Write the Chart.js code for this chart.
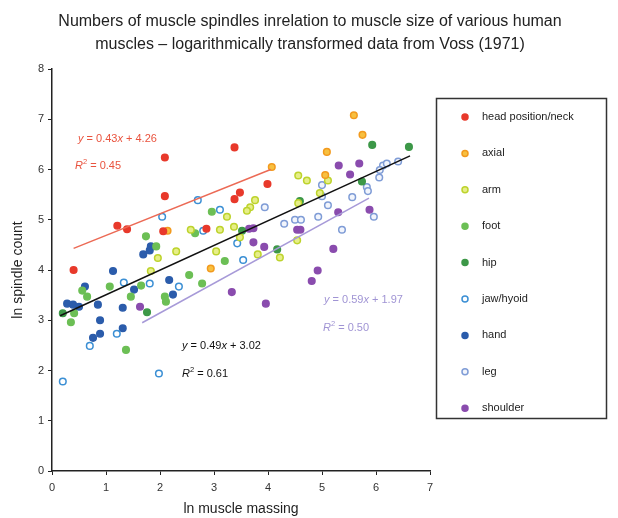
<!DOCTYPE html>
<html>
<head>
<meta charset="utf-8">
<script src="https://cdn.jsdelivr.net/npm/chart.js"></script>
<style>
  html, body { margin: 0; padding: 0; background: #fff; }
</style>
</head>
<body>
<canvas id="grafico" width="618" height="518"></canvas>
<script>
// grupos musculares (leyenda)
const groups = ['head position/neck', 'axial', 'arm', 'foot', 'hip', 'jaw/hyoid', 'hand', 'leg', 'shoulder']
const titleLines = ['Numbers of muscle spindles inrelation to muscle size of various human', 'muscles \u2013 logarithmically transformed data from Voss (1971)']

// [ln masa, ln husos]
const headNeck = [[0.4, 4.0], [1.21, 4.88], [1.39, 4.81], [2.09, 5.47], [2.09, 6.24], [3.38, 6.44], [3.38, 5.41], [3.48, 5.54], [3.99, 5.71], [2.06, 4.77], [2.86, 4.82]]
const axial = [[5.59, 7.08], [5.75, 6.69], [5.09, 6.35], [4.07, 6.05], [5.06, 5.89], [2.14, 4.78], [2.94, 4.03]]
const arm = [[4.56, 5.88], [4.72, 5.78], [5.11, 5.78], [3.76, 5.39], [3.67, 5.25], [3.61, 5.18], [3.37, 4.86], [3.48, 4.65], [3.81, 4.31], [4.22, 4.25], [4.54, 4.59], [2.57, 4.80], [3.11, 4.80], [2.30, 4.37], [1.96, 4.24], [1.83, 3.98], [3.04, 4.37], [3.24, 5.06], [4.96, 5.53], [4.56, 5.33]]
const foot = [[1.74, 4.67], [1.93, 4.47], [1.07, 3.67], [0.56, 3.59], [0.65, 3.47], [0.41, 3.14], [0.35, 2.96], [1.46, 3.47], [1.65, 3.69], [1.37, 2.41], [2.09, 3.47], [2.11, 3.37], [2.54, 3.90], [2.78, 3.73], [3.20, 4.18], [2.96, 5.16], [2.65, 4.73]]
const hip = [[0.2, 3.14], [1.76, 3.16], [5.93, 6.49], [6.61, 6.45], [4.59, 5.37], [5.74, 5.76], [4.17, 4.41], [3.52, 4.78]]
const jawHyoid = [[0.2, 1.78], [1.98, 1.94], [0.7, 2.49], [1.2, 2.73], [1.33, 3.75], [1.81, 3.73], [2.04, 5.06], [2.8, 4.78], [3.11, 5.2], [2.35, 3.67], [2.7, 5.39], [3.54, 4.2], [3.43, 4.53]]
const hand = [[1.69, 4.31], [1.83, 4.47], [1.81, 4.39], [1.13, 3.98], [0.61, 3.67], [0.28, 3.33], [0.39, 3.31], [0.5, 3.27], [0.85, 3.31], [1.52, 3.61], [1.31, 3.25], [0.89, 3.0], [0.89, 2.73], [0.76, 2.65], [1.31, 2.84], [2.17, 3.8], [2.24, 3.51]]
const leg = [[3.94, 5.25], [4.3, 4.92], [4.5, 5.0], [4.61, 5.0], [4.93, 5.06], [5.37, 4.8], [5.96, 5.06], [5.11, 5.29], [6.13, 6.08], [6.2, 6.12], [6.41, 6.16], [6.07, 5.99], [6.06, 5.84], [5.83, 5.65], [5.85, 5.57], [5.56, 5.45], [5.0, 5.69], [5.0, 5.47]]
const shoulder = [[5.3, 5.15], [5.88, 5.2], [4.54, 4.8], [4.6, 4.8], [3.73, 4.55], [3.93, 4.46], [5.21, 4.42], [4.92, 3.99], [4.81, 3.78], [3.33, 3.56], [3.96, 3.33], [3.65, 4.82], [3.73, 4.83], [5.31, 6.08], [5.69, 6.12], [5.52, 5.9], [1.63, 3.27]]

// lineas de tendencia (extremos leidos)
const trendHead = [[0.4, 4.43], [4.05, 6.0]]
const trendAll = [[0.15, 3.09], [6.63, 6.27]]
const trendLow = [[1.67, 2.95], [5.87, 5.43]]
const eqHead = ['0.43', '4.26', '0.45']
const eqAll = ['0.49', '3.02', '0.61']
const eqLow = ['0.59', '1.97', '0.50']

const groupData = [headNeck, axial, arm, foot, hip, jawHyoid, hand, leg, shoulder]
const fills = ['#e8392b', '#f7c040', '#e6ee88', '#6cbf55', '#3d9848', '#ffffff', '#2b5cab', '#f2f5fc', '#8a4cae']
const borders = ['#e8392b', '#f29a1e', '#bdd32c', '#6cbf55', '#3d9848', '#3b8fd4', '#2b5cab', '#7f9cd6', '#8a4cae']

const FONT = '"Liberation Sans", Arial, sans-serif'
const toPts = (arr) => arr.map((p) => ({ x: p[0], y: p[1] }))

const datasets = groups.map((g, i) => ({
    label: g,
    data: toPts(groupData[i]),
    backgroundColor: fills[i],
    borderColor: borders[i],
    borderWidth: 1.5,
    pointRadius: 3.3,
    pointHoverRadius: 3.3
}))

const lineSet = (arr, color) => ({
    type: 'line',
    label: '',
    data: toPts(arr),
    borderColor: color,
    borderWidth: 1.5,
    pointRadius: 0,
    fill: false,
    order: -1
})
datasets.push(lineSet(trendHead, '#ec6a55'))
datasets.push(lineSet(trendAll, '#111111'))
datasets.push(lineSet(trendLow, '#a79ad8'))

// texto con cursiva para y, x, R
const drawEq = (ctx, x, y, parts, color) => {
    ctx.fillStyle = color
    ctx.textBaseline = 'middle'
    ctx.textAlign = 'left'
    parts.forEach((p) => {
        const size = p.sup ? 7.5 : 11
        ctx.font = (p.it ? 'italic ' : '') + size + 'px ' + FONT
        ctx.fillText(p.t, x, p.sup ? y - 4 : y)
        x += ctx.measureText(p.t).width
    })
}
const eqParts = (e) => [{ t: 'y', it: true }, { t: ' = ' + e[0] }, { t: 'x', it: true }, { t: ' + ' + e[1] }]
const r2Parts = (e) => [{ t: 'R', it: true }, { t: '2', sup: true }, { t: ' = ' + e[2] }]

const extras = {
    id: 'extras',
    afterDraw(chart) {
        const ctx = chart.ctx
        ctx.save()
        // titulo centrado en todo el canvas
        ctx.fillStyle = '#222'
        ctx.font = '16px ' + FONT
        ctx.textAlign = 'center'
        ctx.textBaseline = 'middle'
        ctx.fillText(titleLines[0], 310, 22)
        ctx.fillText(titleLines[1], 310, 45)

        drawEq(ctx, 78, 139, eqParts(eqHead), '#e9533e')
        drawEq(ctx, 75, 166, r2Parts(eqHead), '#e9533e')
        drawEq(ctx, 182, 346, eqParts(eqAll), '#111')
        drawEq(ctx, 182, 374, r2Parts(eqAll), '#111')
        drawEq(ctx, 324, 300, eqParts(eqLow), '#a094d4')
        drawEq(ctx, 323, 328, r2Parts(eqLow), '#a094d4')

        // leyenda con marco
        ctx.strokeStyle = '#333'
        ctx.lineWidth = 1.5
        ctx.strokeRect(436.5, 98.5, 170, 320)
        groups.forEach((g, i) => {
            const cy = 117 + i * 36.4
            ctx.beginPath()
            ctx.arc(465, cy, 3, 0, Math.PI * 2)
            ctx.fillStyle = fills[i]
            ctx.fill()
            ctx.lineWidth = 1.5
            ctx.strokeStyle = borders[i]
            ctx.stroke()
            ctx.fillStyle = '#222'
            ctx.font = '11px ' + FONT
            ctx.textAlign = 'left'
            ctx.textBaseline = 'middle'
            ctx.fillText(g, 482, cy)
        })
        ctx.restore()
    }
}

const axisFont = { family: FONT, size: 11 }

new Chart(document.getElementById('grafico'), {
    type: 'scatter',
    data: { datasets },
    options: {
        responsive: false,
        animation: false,
        devicePixelRatio: 1,
        layout: { padding: { left: 8, right: 188, top: 69, bottom: 0 } },
        plugins: {
            legend: { display: false },
            tooltip: { enabled: false }
        },
        scales: {
            x: {
                type: 'linear',
                min: 0,
                max: 7,
                ticks: { stepSize: 1, color: '#333', font: axisFont, padding: 6 },
                grid: { drawOnChartArea: false, tickLength: 4, color: '#222' },
                border: { color: '#222', width: 1.5 },
                title: { display: true, text: 'ln muscle massing', color: '#222', font: { family: FONT, size: 14 }, padding: { top: 1, bottom: 0 } }
            },
            y: {
                type: 'linear',
                min: 0,
                max: 8,
                ticks: { stepSize: 1, color: '#333', font: axisFont, padding: 4 },
                grid: { drawOnChartArea: false, tickLength: 4, color: '#222' },
                border: { color: '#222', width: 1.5 },
                title: { display: true, text: 'ln spindle count', color: '#222', font: { family: FONT, size: 14 }, padding: { top: 1.6, bottom: 0 } },
                afterFit: (s) => { s.width = 44 }
            }
        }
    },
    plugins: [extras]
})
</script>
</body>
</html>
